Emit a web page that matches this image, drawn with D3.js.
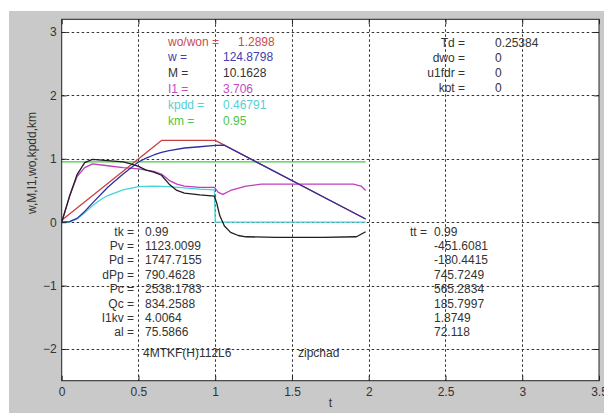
<!DOCTYPE html>
<html>
<head>
<meta charset="utf-8">
<script src="https://cdn.jsdelivr.net/npm/d3@7"></script>
<style>
  body { margin: 0; background: #fff; }
  svg text { font-family: "Liberation Sans", Arial, sans-serif; }
</style>
</head>
<body>
<div id="d3"></div>
<script>
// series values
const tWo = [0, 0.65, 1.0, 1.98];
const wo = [0.03, 1.29, 1.29, 0.05];

const tW = [0, 0.05, 0.1, 0.15, 0.2, 0.3, 0.4, 0.5, 0.55, 0.6, 0.65, 0.7, 0.8, 0.9, 1.0, 1.06, 1.98];
const w = [0, 0.01, 0.06, 0.17, 0.3, 0.55, 0.76, 0.95, 1.01, 1.06, 1.1, 1.13, 1.17, 1.19, 1.21, 1.214, 0.05];

const tM = [0, 0.05, 0.1, 0.15, 0.2, 0.3, 0.4, 0.45, 0.5, 0.55, 0.6, 0.65, 0.7, 0.75, 0.8, 0.9, 0.995, 1.01, 1.03, 1.06, 1.1, 1.15, 1.2, 1.4, 1.7, 1.92, 1.98];
const M = [0, 0.4, 0.75, 0.94, 0.99, 0.97, 0.95, 0.92, 0.88, 0.82, 0.79, 0.74, 0.6, 0.5, 0.46, 0.43, 0.41, 0.3, 0.1, -0.06, -0.16, -0.21, -0.23, -0.24, -0.24, -0.23, -0.15];

const tI1 = [0, 0.05, 0.1, 0.15, 0.2, 0.3, 0.4, 0.5, 0.6, 0.65, 0.7, 0.75, 0.8, 0.9, 0.995, 1.02, 1.05, 1.1, 1.2, 1.3, 1.5, 1.9, 1.95, 1.98];
const I1 = [0, 0.4, 0.72, 0.86, 0.92, 0.89, 0.86, 0.84, 0.8, 0.76, 0.66, 0.6, 0.57, 0.55, 0.55, 0.47, 0.44, 0.5, 0.57, 0.6, 0.6, 0.6, 0.57, 0.5];

const tKpdd = [0, 0.05, 0.1, 0.15, 0.2, 0.25, 0.3, 0.4, 0.5, 0.6, 0.7, 0.8, 0.9, 0.995, 1.0, 1.98];
const kpdd = [0, 0, 0.05, 0.15, 0.26, 0.35, 0.42, 0.51, 0.56, 0.57, 0.56, 0.54, 0.52, 0.51, 0.0, 0.0];

const tKm = [0, 1.98];
const km = [0.95, 0.95];

const xTicks = [0, 0.5, 1, 1.5, 2, 2.5, 3, 3.5];
const yTicks = [-2, -1, 0, 1, 2, 3];

// text blocks
const topLeftLabels = ["wo/won =", "w =", "M =", "I1 =", "kpdd =", "km ="];
const topLeftValues = ["1.2898", "124.8798", "10.1628", "3.706", "0.46791", "0.95"];
const topRightLabels = ["Td =", "dwo =", "u1fdr =", "kot ="];
const topRightValues = ["0.25384", "0", "0", "0"];
const bottomLabels = ["tk =", "Pv =", "Pd =", "dPp =", "Pc =", "Qc =", "I1kv =", "al ="];
const bottomValues = ["0.99", "1123.0099", "1747.7155", "790.4628", "2538.1783", "834.2588", "4.0064", "75.5866"];
const rightValues = ["0.99", "-451.6081", "-180.4415", "745.7249", "565.2834", "185.7997", "1.8749", "72.118"];

// drawing order: later ones on top
const series = [
  { t: tKm, v: km, color: "#44c844" },
  { t: tKpdd, v: kpdd, color: "#44d4d8" },
  { t: tI1, v: I1, color: "#c23cc2" },
  { t: tWo, v: wo, color: "#c84040" },
  { t: tM, v: M, color: "#1e1e1e" },
  { t: tW, v: w, color: "#2e2ea6" }
];
const legendColors = ["#c84c4c", "#4040b0", "#333333", "#c24cc2", "#55d0d4", "#4cc44c"];

const W = 604, H = 413;
const box = { left: 61.7, right: 599, top: 19.3, bottom: 380.7 };

const svg = d3.select("#d3").append("svg")
  .attr("width", W).attr("height", H)
  .attr("viewBox", `0 0 ${W} ${H}`);

// figure background
svg.append("rect").attr("x", 9).attr("y", 11).attr("width", W - 9).attr("height", H - 11)
  .attr("fill", "#c9c9c9");
svg.append("rect").attr("x", box.left).attr("y", box.top)
  .attr("width", box.right - box.left).attr("height", box.bottom - box.top)
  .attr("fill", "#fff");

const x = d3.scaleLinear().domain([0, 3.5]).range([box.left, box.right]);
const y = d3.scaleLinear().domain([-2.5, 3.2]).range([box.bottom, box.top]);

// grid
const grid = svg.append("g").attr("stroke", "#333").attr("stroke-width", 1)
  .attr("stroke-dasharray", "2.5,2.5");
grid.selectAll("line.gx").data(xTicks.filter(d => d > 0 && d < 3.5)).join("line")
  .attr("x1", d => Math.round(x(d)) + 0.5).attr("x2", d => Math.round(x(d)) + 0.5)
  .attr("y1", box.top).attr("y2", box.bottom);
grid.selectAll("line.gy").data(yTicks).join("line")
  .attr("y1", d => Math.round(y(d)) + 0.5).attr("y2", d => Math.round(y(d)) + 0.5)
  .attr("x1", box.left).attr("x2", box.right);

// curves
svg.append("clipPath").attr("id", "clip").append("rect")
  .attr("x", box.left).attr("y", box.top)
  .attr("width", box.right - box.left).attr("height", box.bottom - box.top);

const line = d3.line().x(d => x(d[0])).y(d => y(d[1]));
svg.append("g").attr("clip-path", "url(#clip)")
  .selectAll("path").data(series).join("path")
  .attr("d", s => line(s.t.map((t, i) => [t, s.v[i]])))
  .attr("fill", "none")
  .attr("stroke", s => s.color)
  .attr("stroke-linejoin", "round")
  .attr("stroke-width", 1.3);

// axes (ticks inward)
const axisStyle = g => {
  g.select(".domain").remove();
  g.selectAll("line").attr("stroke", "#222");
  g.selectAll("text").attr("fill", "#333").style("font-size", "12px")
    .style("font-family", "'Liberation Sans', Arial, sans-serif");
};
svg.append("g").attr("transform", `translate(0,${box.bottom})`)
  .call(d3.axisBottom(x).tickValues(xTicks).tickSize(-5).tickPadding(7).tickFormat(d3.format("")))
  .call(axisStyle);
svg.append("g").attr("transform", `translate(0,${box.top})`)
  .call(d3.axisTop(x).tickValues(xTicks).tickSize(-5).tickFormat(""))
  .call(axisStyle);
svg.append("g").attr("transform", `translate(${box.left},0)`)
  .call(d3.axisLeft(y).tickValues(yTicks).tickSize(-5).tickPadding(5).tickFormat(d3.format("")))
  .call(axisStyle);
svg.append("g").attr("transform", `translate(${box.right},0)`)
  .call(d3.axisRight(y).tickValues(yTicks).tickSize(-5).tickFormat(""))
  .call(axisStyle);

svg.append("rect").attr("x", box.left).attr("y", box.top)
  .attr("width", box.right - box.left).attr("height", box.bottom - box.top)
  .attr("fill", "none").attr("stroke", "#222").attr("stroke-width", 1);

// axis titles
svg.append("text").attr("x", (box.left + box.right) / 2).attr("y", 407)
  .attr("text-anchor", "middle").attr("fill", "#333").style("font-size", "12px").text("t");
svg.append("text").attr("transform", "translate(36,163) rotate(-90)")
  .attr("text-anchor", "middle").attr("fill", "#333").style("font-size", "12px")
  .text("w,M,I1,wo,kpdd,km");

// text blocks
const txt = svg.append("g").style("font-size", "12px");
topLeftLabels.forEach((d, i) => {
  const by = 45.5 + i * 15.8;
  txt.append("text").attr("x", 168).attr("y", by).attr("fill", legendColors[i]).text(d);
  txt.append("text").attr("x", i === 0 ? 238 : 223).attr("y", by).attr("fill", legendColors[i])
    .text(topLeftValues[i]);
});
topRightLabels.forEach((d, i) => {
  const by = 46.5 + i * 15.3;
  txt.append("text").attr("x", 465).attr("y", by).attr("text-anchor", "end").attr("fill", "#333").text(d);
  txt.append("text").attr("x", 495).attr("y", by).attr("fill", "#333").text(topRightValues[i]);
});
bottomLabels.forEach((d, i) => {
  const by = 235.5 + i * 14.4;
  txt.append("text").attr("x", 134).attr("y", by).attr("text-anchor", "end").attr("fill", "#333").text(d);
  txt.append("text").attr("x", 145).attr("y", by).attr("fill", "#333").text(bottomValues[i]);
  txt.append("text").attr("x", 434).attr("y", by).attr("fill", "#333").text(rightValues[i]);
});
txt.append("text").attr("x", 427).attr("y", 235.5).attr("text-anchor", "end").attr("fill", "#333").text("tt =");
txt.append("text").attr("x", 143).attr("y", 357).attr("fill", "#333").text("4MTKF(H)112L6");
txt.append("text").attr("x", 298).attr("y", 357).attr("fill", "#333").text("zipchad");
</script>
</body>
</html>
